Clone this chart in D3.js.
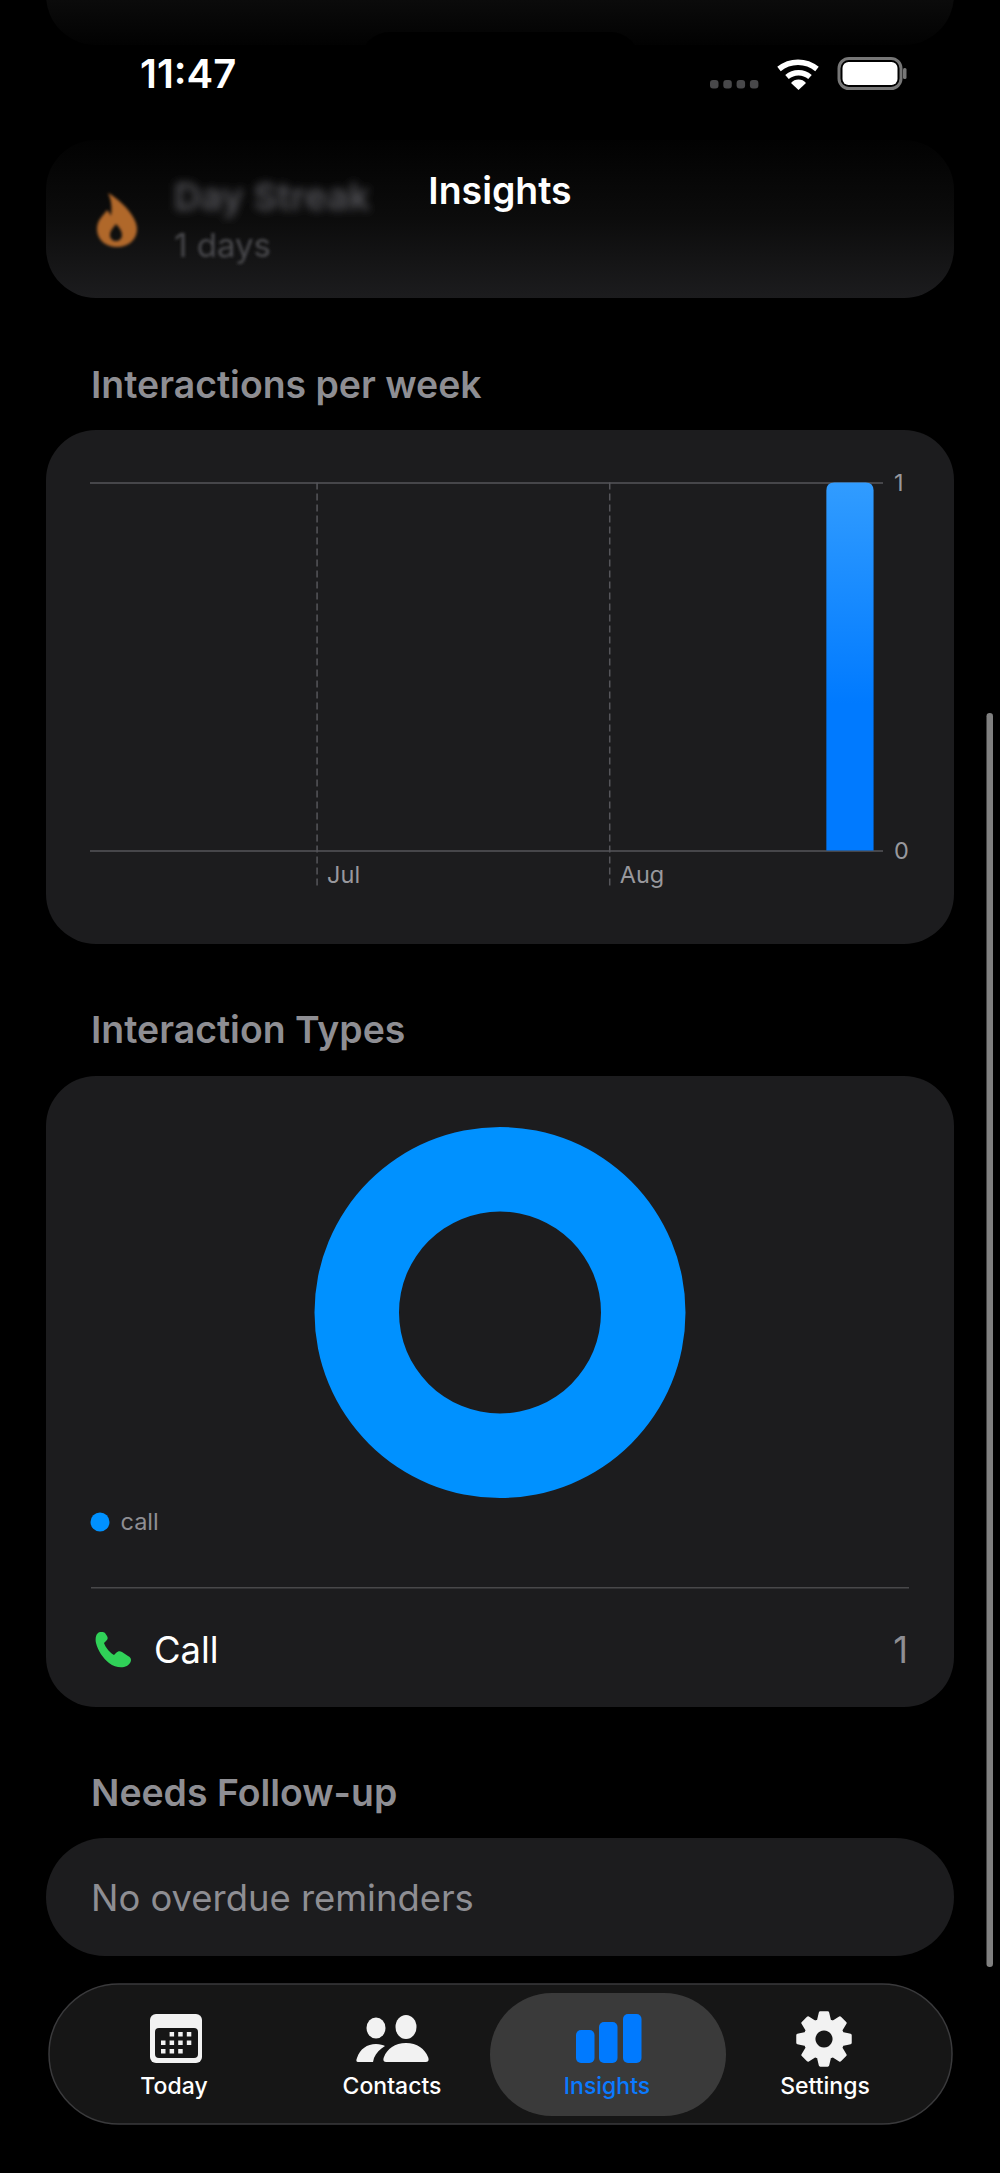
<!DOCTYPE html>
<html>
<head>
<meta charset="utf-8">
<script src="https://cdn.jsdelivr.net/npm/d3@7"></script>
<style>
  html, body { margin: 0; padding: 0; background: #000; }
  svg { display: block; font-family: Inter, "Noto Sans", sans-serif; }
</style>
</head>
<body>
<svg id="screen" width="1000" height="2173"></svg>
<script>
// chart values
const weekStarts = ["2025-08-24"];
const weekCounts = [1];
const monthTicks = ["2025-07-01", "2025-08-01"];
const monthLabels = ["Jul", "Aug"];
const countTicks = [0, 1];
const typeNames = ["call"];
const typeCounts = [1];
const typeLabels = ["Call"];
const tabNames = ["Today", "Contacts", "Insights", "Settings"];

const parseDay = d3.utcParse("%Y-%m-%d");
const svg = d3.select("#screen");
const defs = svg.append("defs");

defs.append("filter").attr("id", "blur8").append("feGaussianBlur").attr("stdDeviation", 4);
defs.append("filter").attr("id", "blur2").append("feGaussianBlur").attr("stdDeviation", 1.6);

const fade = defs.append("linearGradient").attr("id", "fade")
  .attr("x1", 0).attr("x2", 0).attr("y1", 0).attr("y2", 1);
fade.append("stop").attr("offset", 0).attr("stop-color", "#020202");
fade.append("stop").attr("offset", 0.5).attr("stop-color", "#0c0c0c");
fade.append("stop").attr("offset", 1).attr("stop-color", "#1c1c1e");

const topFade = defs.append("linearGradient").attr("id", "topFade")
  .attr("gradientUnits", "userSpaceOnUse")
  .attr("x1", 0).attr("x2", 0).attr("y1", 0).attr("y2", 45);
topFade.append("stop").attr("offset", 0).attr("stop-color", "#0b0b0b");
topFade.append("stop").attr("offset", 1).attr("stop-color", "#020202");

const barFill = defs.append("linearGradient").attr("id", "barFill")
  .attr("x1", 0).attr("x2", 0).attr("y1", 0).attr("y2", 1);
barFill.append("stop").attr("offset", 0).attr("stop-color", "#319cff");
barFill.append("stop").attr("offset", 0.6).attr("stop-color", "#007aff");
barFill.append("stop").attr("offset", 1).attr("stop-color", "#007aff");

const label = (txt, x, y, size, fill, weight, anchor) =>
  svg.append("text").attr("x", x).attr("y", y).attr("font-size", size)
    .attr("fill", fill).attr("font-weight", weight || 400)
    .attr("text-anchor", anchor || "start").text(txt);

const card = (x, y, w, h, r, fill) =>
  svg.append("rect").attr("x", x).attr("y", y).attr("width", w).attr("height", h)
    .attr("rx", r).attr("fill", fill || "#1c1c1e");

// scrolled away content behind the nav bar
card(46, -120, 908, 165, 50, "url(#topFade)");
svg.append("rect").attr("x", 360).attr("y", 32).attr("width", 280).attr("height", 60).attr("rx", 30).attr("fill", "#000");
card(46, 140, 908, 158, 50, "url(#fade)");
svg.append("path").attr("fill-rule", "evenodd")
  .attr("d", "M108 193c14 8 29 24 29 36 0 11-9 18-20 18s-20-7-20-18c0-9 6-13 10-19 2 2 3 4 4 6 1-7 1-15-3-23zM116 224c-3 4-6 7-6 11 0 4 3 6 6 6s6-2 6-6c0-4-3-8-6-11z")
  .attr("fill", "#b0682a").attr("filter", "url(#blur2)");
label("Day Streak", 174, 210, 37.4, "#55555a", 600).attr("filter", "url(#blur8)");
label("1 days", 174, 257, 33, "#4a4a4d").attr("filter", "url(#blur2)");

// status bar
label("11:47", 140, 88, 40, "#fff", 600);
svg.append("g").selectAll("rect").data(d3.range(4)).join("rect")
  .attr("x", (d) => 710 + d * 13.3).attr("y", 80).attr("width", 8.5).attr("height", 8.5)
  .attr("rx", 3).attr("fill", "#48484a");
const wifi = svg.append("g").attr("fill", "none").attr("stroke", "#fff").attr("stroke-width", 5.5);
wifi.append("path").attr("d", "M779 69a30 30 0 0 1 38 0");
wifi.append("path").attr("d", "M787 77a18 18 0 0 1 23 0");
svg.append("path").attr("d", "M791 83a10 10 0 0 1 15 0l-7.5 7z").attr("fill", "#fff");
svg.append("rect").attr("x", 839).attr("y", 58.5).attr("width", 62).attr("height", 30).attr("rx", 10)
  .attr("fill", "none").attr("stroke", "#777").attr("stroke-width", 3);
svg.append("rect").attr("x", 842.5).attr("y", 62).attr("width", 55).attr("height", 23).attr("rx", 6).attr("fill", "#fff");
svg.append("rect").attr("x", 903).attr("y", 68).attr("width", 3.5).attr("height", 11).attr("rx", 1.5).attr("fill", "#777");
label("Insights", 500, 204, 37.4, "#fff", 600, "middle");

// section titles
label("Interactions per week", 91, 398, 37.4, "#8e8e93", 600);
label("Interaction Types", 91, 1043, 37.4, "#8e8e93", 600);
label("Needs Follow-up", 91, 1806, 37.4, "#8e8e93", 600);

// weekly bar chart
card(46, 430, 908, 514, 50);
const x = d3.scaleUtc()
  .domain([parseDay("2025-06-07"), parseDay("2025-08-30")])
  .range([90, 883]);
const y = d3.scaleLinear().domain([0, 1]).range([850.5, 482.5]);

const xAxis = d3.axisBottom(x)
  .tickValues(monthTicks.map(parseDay))
  .tickFormat((d, i) => monthLabels[i])
  .tickSizeOuter(0);
const gx = svg.append("g").attr("transform", `translate(0,${y(0)})`).call(xAxis);
gx.select(".domain").remove();
gx.selectAll(".tick line")
  .attr("y1", y(1) - y(0)).attr("y2", 37)
  .attr("stroke", "#55555a").attr("stroke-width", 1.5).attr("stroke-dasharray", "7 4");
gx.selectAll(".tick text")
  .attr("x", 10).attr("y", 32).attr("dy", null).attr("text-anchor", "start")
  .attr("font-family", "Inter").attr("font-size", 23.5).attr("fill", "#98989d");

const yAxis = d3.axisRight(y).tickValues(countTicks).tickFormat(d3.format("d")).tickSizeOuter(0);
const gy = svg.append("g").attr("transform", "translate(883,0)").call(yAxis);
gy.select(".domain").remove();
gy.selectAll(".tick line")
  .attr("x1", 90 - 883).attr("x2", 0)
  .attr("stroke", "#55555a").attr("stroke-width", 1.5);
gy.selectAll(".tick text")
  .attr("x", 11).attr("dy", "0.35em").attr("text-anchor", "start")
  .attr("font-family", "Inter").attr("font-size", 23.5).attr("fill", "#98989d");

svg.append("g").selectAll("path").data(weekStarts).join("path")
  .attr("fill", "url(#barFill)")
  .attr("d", (d, i) => {
    const x0 = x(parseDay(d));
    const x1 = x(d3.utcDay.offset(parseDay(d), 5));
    const top = y(weekCounts[i]);
    const r = 8;
    return `M${x0} ${y(0)}V${top + r}Q${x0} ${top} ${x0 + r} ${top}H${x1 - r}Q${x1} ${top} ${x1} ${top + r}V${y(0)}Z`;
  });

// interaction types
card(46, 1076, 908, 631, 50);
const typeColor = d3.scaleOrdinal().domain(typeNames).range(["#0091ff"]);
const pie = d3.pie().sort(null)(typeCounts);
const arc = d3.arc().innerRadius(101).outerRadius(185.5);
svg.append("g").attr("transform", "translate(500,1312.5)")
  .selectAll("path").data(pie).join("path")
  .attr("d", arc)
  .attr("fill", (d, i) => typeColor(typeNames[i]));

svg.append("g").selectAll("circle").data(typeNames).join("circle")
  .attr("cx", 100).attr("cy", 1522).attr("r", 9.5).attr("fill", (d) => typeColor(d));
label(typeNames[0], 120.5, 1529.5, 23.5, "#8e8e93");

svg.append("rect").attr("x", 91).attr("y", 1587).attr("width", 818).attr("height", 1.5).attr("fill", "#48484a");
svg.append("path")
  .attr("d", "M100 1632c-4 1-5 6-4 11 2 8 7 15 13 20 5 4 11 5 15 4 4-1 7-4 7-7 0-2-1-3-3-4l-6-4c-2-1-4-1-6 1l-2 2c-3-1-9-8-10-12l2-2c2-2 2-3 1-5l-2-3c-1-1-2-1-3-1z")
  .attr("fill", "#30d158");
label(typeLabels[0], 154, 1663, 36.4, "#fff");
label(typeCounts[0], 908, 1663, 36.4, "#8e8e93", 400, "end");

// follow-up card
card(46, 1838, 908, 118, 59);
label("No overdue reminders", 91, 1910.5, 36.4, "#8e8e93");

// scroll indicator
svg.append("rect").attr("x", 986.5).attr("y", 713).attr("width", 6.5).attr("height", 1254).attr("rx", 3.2).attr("fill", "#808080");

// tab bar
svg.append("rect").attr("x", 49).attr("y", 1984).attr("width", 903).attr("height", 140).attr("rx", 70)
  .attr("fill", "#161616").attr("stroke", "#3a3a3c").attr("stroke-width", 1.5);
svg.append("rect").attr("x", 490).attr("y", 1993).attr("width", 236).attr("height", 123).attr("rx", 61.5).attr("fill", "#3a3a3a");

const tabX = [174, 392, 607, 825];
svg.append("g").selectAll("text").data(tabNames).join("text")
  .attr("x", (d, i) => tabX[i]).attr("y", 2094).attr("text-anchor", "middle")
  .attr("font-size", 23).attr("font-weight", 500)
  .attr("fill", (d) => d === "Insights" ? "#0a7aff" : "#fff")
  .text((d) => d);

// calendar icon
svg.append("rect").attr("x", 150).attr("y", 2014).attr("width", 52).attr("height", 49).attr("rx", 6).attr("fill", "#f2f2f2");
svg.append("rect").attr("x", 155).attr("y", 2028).attr("width", 43).attr("height", 30).attr("rx", 4).attr("fill", "#161616");
const calDots = [[1, 2, 3], [0, 1, 2, 3], [0, 1, 2]];
calDots.forEach((row, r) => row.forEach((c) => {
  svg.append("rect").attr("x", 161 + c * 8.6).attr("y", 2032 + r * 8.5).attr("width", 4.5).attr("height", 4.5).attr("fill", "#f2f2f2");
}));

// contacts icon
const people = svg.append("g").attr("fill", "#f2f2f2");
people.append("ellipse").attr("cx", 376).attr("cy", 2028).attr("rx", 9.5).attr("ry", 10.5);
people.append("ellipse").attr("cx", 406).attr("cy", 2027).attr("rx", 10.5).attr("ry", 12);
people.append("path").attr("d", "M358 2062c-2 0-2-2-1-4 3-9 10-14 19-14 4 0 7 1 9 2-5 3-9 7-11 12l-1 4z");
people.append("path").attr("d", "M386 2062c-3 0-3-3-2-5 3-8 11-14 22-14s19 6 22 14c1 2 1 5-2 5z");

// insights icon
const iconBars = [[576, 2030], [599, 2022], [623, 2014]];
svg.append("g").selectAll("rect").data(iconBars).join("rect")
  .attr("x", (d) => d[0]).attr("y", (d) => d[1]).attr("width", 18.5)
  .attr("height", (d) => 2063 - d[1]).attr("rx", 5).attr("fill", "#007aff");

// settings icon
const gear = d3.range(8).flatMap((k) => {
  const a = k / 8 * 2 * Math.PI;
  return [[-0.3, 19], [-0.14, 26.5], [0.14, 26.5], [0.3, 19]].map(([da, r]) =>
    [824 + r * Math.sin(a + da), 2039 - r * Math.cos(a + da)]);
});
svg.append("path").attr("fill", "#f2f2f2").attr("fill-rule", "evenodd")
  .attr("stroke", "#f2f2f2").attr("stroke-width", 3).attr("stroke-linejoin", "round")
  .attr("d", d3.line()(gear) + "Z M824 2029a10 10 0 1 0 0.01 0Z");
</script>
</body>
</html>
